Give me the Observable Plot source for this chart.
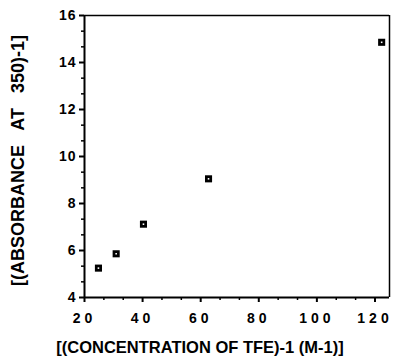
<!DOCTYPE html>
<html>
<head>
<meta charset="utf-8">
<script src="https://cdn.jsdelivr.net/npm/d3@7"></script>
<script src="https://cdn.jsdelivr.net/npm/@observablehq/plot@0.6"></script>
<style>
  html, body { margin: 0; padding: 0; background: white; }
</style>
</head>
<body>
<div id="chart"></div>
<script>
// Data
const concentrationInv = [24.8, 30.9, 40.3, 62.7, 122.3];
const absorbanceInv = [5.25, 5.86, 7.12, 9.05, 14.86];
const xTicks = [20, 40, 60, 80, 100, 120];
const yTicks = [4, 6, 8, 10, 12, 14, 16];
const xTitle = "[(CONCENTRATION OF TFE)-1 (M-1)]";
const yTitle = "[(ABSORBANCE AT 350)-1]";

const points = concentrationInv.map((x, i) => ({x, y: absorbanceInv[i]}));
const xMinor = d3.range(20, 125.01, 20 / 3).filter(v => !xTicks.some(t => Math.abs(t - v) < 1e-6));
const yMinor = d3.range(4, 16.01, 2 / 3).filter(v => !yTicks.some(t => Math.abs(t - v) < 1e-6));

const chart = Plot.plot({
  width: 395,
  height: 362,
  marginLeft: 84,
  marginRight: 6,
  marginTop: 15,
  marginBottom: 65,
  x: {domain: [20, 125]},
  y: {domain: [4, 16]},
  style: {fontFamily: "'Liberation Sans', Arial, sans-serif", color: "black", background: "white", overflow: "visible"},
  marks: [
    Plot.axisX(xMinor, {tickSize: 3, tickFormat: () => "", strokeWidth: 1.5, label: null}),
    Plot.axisY(yMinor, {tickSize: 3, tickFormat: () => "", strokeWidth: 1.5, label: null}),
    Plot.axisX(xTicks, {tickSize: 5, tickPadding: 11, strokeWidth: 2, fontSize: 14, label: null}),
    Plot.axisY(yTicks, {tickSize: 5, tickPadding: 3, strokeWidth: 2, fontSize: 14, label: null}),
    Plot.ruleX([125], {stroke: "black", strokeWidth: 1.5}),
    Plot.ruleY([16], {stroke: "black", strokeWidth: 1.5}),
    Plot.ruleX([20], {stroke: "black", strokeWidth: 2}),
    Plot.ruleY([4], {stroke: "black", strokeWidth: 2}),
    Plot.dot(points, {x: "x", y: "y", symbol: "square", r: 4, fill: "black", stroke: "none"}),
    Plot.dot(points, {x: "x", y: "y", symbol: "square", r: 0.9, fill: "white", stroke: "none"}),
    Plot.text([xTitle], {frameAnchor: "bottom", textAnchor: "middle", dx: -37, dy: 55, fontSize: 16.5, fontWeight: "bold", text: d => d}),
    Plot.text([yTitle], {frameAnchor: "left", textAnchor: "middle", rotate: -90, dx: -66, dy: 4, fontSize: 18, fontWeight: "bold", text: d => d})
  ]
});

const svg = d3.select(chart);
svg.selectAll('g[aria-label="x-axis tick label"] text').style("letter-spacing", "4px").style("font-weight", "bold");
svg.selectAll('g[aria-label="y-axis tick label"] text').style("letter-spacing", "1px").style("font-weight", "bold");
svg.selectAll('g[aria-label="x-axis tick label"], g[aria-label="y-axis tick label"]').attr("font-weight", "bold");
svg.selectAll('g[aria-label="text"] text').filter(function() { return this.textContent === yTitle; }).style("word-spacing", "10px");
document.getElementById("chart").appendChild(chart);
</script>
</body>
</html>
